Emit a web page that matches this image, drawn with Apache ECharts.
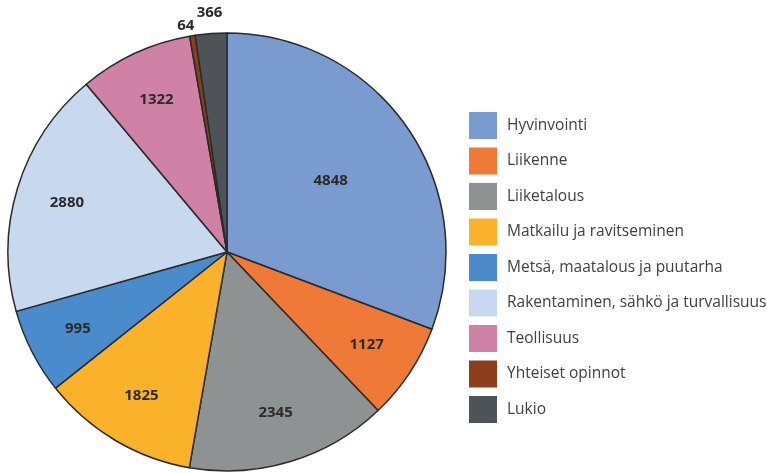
<!DOCTYPE html>
<html>
<head>
<meta charset="utf-8">
<script src="https://cdn.jsdelivr.net/npm/echarts@6/dist/echarts.min.js"></script>
<style>
  html, body { margin: 0; padding: 0; background: #fff; }
  #chart { width: 767px; height: 473px; }
</style>
</head>
<body>
<div id="chart"></div>
<script>
const categories = ['Hyvinvointi', 'Liikenne', 'Liiketalous', 'Matkailu ja ravitseminen',
  'Metsä, maatalous ja puutarha', 'Rakentaminen, sähkö ja turvallisuus', 'Teollisuus',
  'Yhteiset opinnot', 'Lukio']
const values = [4848, 1127, 2345, 1825, 995, 2880, 1322, 64, 366]
const colors = ['#7a9bd0', '#ef7a37', '#8f9292', '#fbb22b', '#4a8ccb', '#c8d8ee', '#d081a6', '#8b3f1c', '#4d5357']

const labelFont = { fontFamily: 'Open Sans', fontWeight: 'bold', fontSize: 15, color: '#2b2b2b', formatter: '{c}' }

const center = [227, 252]
const R = 219

const chart = echarts.init(document.getElementById('chart'))

// invisible rings, used only to place the value labels at the right distance
const labelRing = (r0, r1, names) => ({
  type: 'pie',
  center: center,
  radius: [r0, r1],
  startAngle: 90,
  silent: true,
  avoidLabelOverlap: false,
  itemStyle: { color: 'transparent', borderWidth: 0 },
  data: categories.map((name, i) => ({
    name: name,
    value: values[i],
    label: { show: names.includes(name), position: 'inside', ...labelFont }
  }))
})

chart.setOption({
  animation: false,
  color: colors,
  legend: {
    orient: 'vertical',
    left: 464,
    top: 107,
    icon: 'rect',
    itemWidth: 28,
    itemHeight: 27,
    itemGap: 8.5,
    itemStyle: { borderWidth: 0 },
    data: categories,
    textStyle: { fontFamily: 'Open Sans', fontSize: 15.5, color: '#404040', padding: [0, 0, 0, 5] }
  },
  series: [
    {
      type: 'pie',
      center: center,
      radius: R,
      startAngle: 90,
      silent: true,
      avoidLabelOverlap: false,
      itemStyle: { borderColor: '#2a2a2a', borderWidth: 1.5 },
      labelLine: { show: false, length: 10, length2: 0 },
      labelLayout: { align: 'center' },
      // only the thin "Yhteiset opinnot" slice is labelled outside here
      data: categories.map((name, i) => ({
        name: name,
        value: values[i],
        label: { show: name === 'Yhteiset opinnot', position: 'outside', ...labelFont }
      }))
    },
    labelRing(110, R, ['Liikenne', 'Liiketalous', 'Matkailu ja ravitseminen',
      'Metsä, maatalous ja puutarha', 'Rakentaminen, sähkö ja turvallisuus', 'Teollisuus']),
    labelRing(27, R, ['Hyvinvointi']),
    labelRing(R, 255, ['Lukio'])
  ]
})
</script>
</body>
</html>
